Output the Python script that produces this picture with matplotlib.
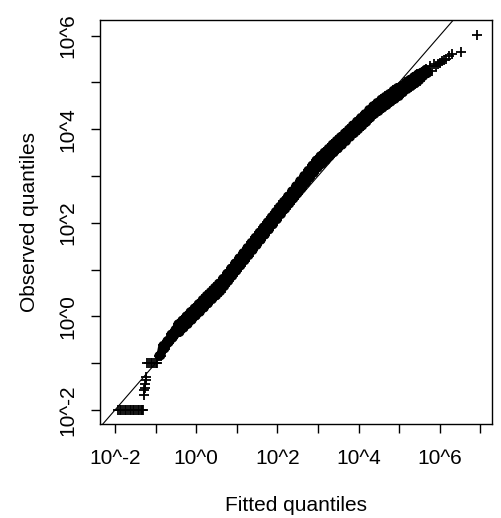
"""
Q-Q plot of observed vs fitted quantiles on log-log axes, with the y = x line.
"""

import matplotlib

matplotlib.use("Agg")
import matplotlib.pyplot as plt
import numpy as np

plt.rcParams["font.family"] = ["Liberation Sans", "DejaVu Sans"]

# quantiles, as log10 exponents
fitted_log10 = [
    # ties at 10^-2
    -1.92, -1.88, -1.84, -1.80, -1.76, -1.72, -1.68, -1.64, -1.60, -1.56,
    -1.52, -1.48, -1.44, -1.40, -1.36, -1.33, -1.31,
    # short climb
    -1.29, -1.28, -1.27, -1.26, -1.24, -1.23,
    # ties at 10^-1
    -1.20, -1.16, -1.12, -1.08, -1.04, -1.00, -0.97,
    # main body
    -0.92, -0.87, -0.82, -0.77, -0.72, -0.67, -0.62, -0.57, -0.52, -0.47,
    -0.45, -0.40, -0.35, -0.30, -0.25, -0.20, -0.15, -0.10, -0.05, 0.00,
    0.05, 0.10, 0.15, 0.20, 0.25, 0.30, 0.35, 0.40, 0.45, 0.50,
    0.55, 0.60, 0.65, 0.70, 0.75, 0.80, 0.85, 0.90, 0.95, 1.00,
    1.05, 1.10, 1.15, 1.20, 1.25, 1.30, 1.35, 1.40, 1.45, 1.50,
    1.55, 1.60, 1.65, 1.70, 1.75, 1.80, 1.85, 1.90, 1.95, 2.00,
    2.05, 2.10, 2.15, 2.20, 2.25, 2.30, 2.35, 2.40, 2.45, 2.50,
    2.55, 2.60, 2.65, 2.70, 2.75, 2.80, 2.85, 2.90, 2.95, 3.00,
    3.05, 3.10, 3.15, 3.20, 3.25, 3.30, 3.35, 3.40, 3.45, 3.50,
    3.55, 3.60, 3.65, 3.70, 3.75, 3.80, 3.85, 3.90, 3.95, 4.00,
    4.05, 4.10, 4.15, 4.20, 4.25, 4.30, 4.35, 4.40, 4.45, 4.50,
    4.55, 4.60, 4.65, 4.70, 4.75, 4.80, 4.85, 4.90, 4.95, 5.00,
    5.05, 5.10, 5.15, 5.20, 5.25, 5.30, 5.35, 5.40, 5.45, 5.50,
    5.55, 5.60, 5.65, 5.70, 5.75, 5.80, 5.85, 5.90,
    # upper tail
    5.95, 6.00, 6.05, 6.10, 6.16, 6.23, 6.30, 6.51, 6.91,
]
observed_log10 = [
    -2.00, -2.00, -2.00, -2.00, -2.00, -2.00, -2.00, -2.00, -2.00, -2.00,
    -2.00, -2.00, -2.00, -2.00, -2.00, -2.00, -2.00,
    -1.68, -1.57, -1.53, -1.45, -1.36, -1.30,
    -1.00, -1.00, -1.00, -1.00, -1.00, -1.00, -1.00,
    -0.84, -0.84, -0.62, -0.69, -0.52, -0.56, -0.38, -0.46, -0.28, -0.35,
    -0.16, -0.34, -0.08, -0.25, 0.01, -0.17, 0.10, -0.08, 0.18, 0.01,
    0.27, 0.09, 0.36, 0.18, 0.45, 0.27, 0.53, 0.36, 0.62, 0.44,
    0.71, 0.53, 0.81, 0.64, 0.92, 0.75, 1.03, 0.86, 1.14, 0.97,
    1.25, 1.08, 1.36, 1.19, 1.47, 1.30, 1.58, 1.41, 1.69, 1.52,
    1.80, 1.63, 1.91, 1.74, 2.02, 1.85, 2.13, 1.96, 2.24, 2.07,
    2.35, 2.18, 2.46, 2.29, 2.57, 2.40, 2.68, 2.51, 2.79, 2.62,
    2.90, 2.73, 3.01, 2.84, 3.12, 2.95, 3.23, 3.06, 3.34, 3.17,
    3.43, 3.25, 3.51, 3.33, 3.59, 3.42, 3.68, 3.50, 3.76, 3.58,
    3.84, 3.66, 3.92, 3.74, 4.00, 3.83, 4.09, 3.91, 4.17, 3.99,
    4.25, 4.07, 4.33, 4.15, 4.42, 4.24, 4.50, 4.32, 4.57, 4.38,
    4.64, 4.45, 4.70, 4.51, 4.76, 4.58, 4.83, 4.64, 4.89, 4.70,
    4.93, 4.78, 5.00, 4.85, 5.06, 4.91, 5.12, 4.97, 5.18, 5.04,
    5.22, 5.13, 5.28, 5.19, 5.34, 5.25, 5.39, 5.34,
    5.40, 5.42, 5.45, 5.47, 5.51, 5.56, 5.60, 5.64, 6.01,
]

x_tick_exps = [-2, -1, 0, 1, 2, 3, 4, 5, 6, 7]
y_tick_exps = [-2, -1, 0, 1, 2, 3, 4, 5, 6]

# the densely packed middle of the sample (between the tie blocks and the tail)
BODY_START, BODY_END = 30, 164


def decade_labels(exps):
    # R only printed every other decade
    return [f"10^{e}" if e % 2 == 0 else "" for e in exps]


fig = plt.figure(figsize=(5.01, 5.18), dpi=100)
ax = fig.add_axes([100 / 501, 1 - 424 / 518, 391.7 / 501, 404 / 518])

fitted = 10.0 ** np.array(fitted_log10)
observed = 10.0 ** np.array(observed_log10)

# thousands of overlapping "+" merge into a solid band there
ax.plot(fitted[BODY_START:BODY_END], observed[BODY_START:BODY_END],
        color="black", linewidth=6.5, solid_joinstyle="round",
        solid_capstyle="round")
ax.plot(fitted, observed, linestyle="none", marker="+", markersize=7.5,
        markeredgewidth=1.3, color="black")
ax.axline((1, 1), (10, 10), color="black", linewidth=0.8, zorder=3)

ax.set_xscale("log")
ax.set_yscale("log")
ax.set_xlim(10 ** -2.369, 10 ** 7.278)
ax.set_ylim(10 ** -2.299, 10 ** 6.333)

ax.set_xticks([10.0 ** e for e in x_tick_exps])
ax.set_xticklabels(decade_labels(x_tick_exps))
ax.set_yticks([10.0 ** e for e in y_tick_exps])
ax.set_yticklabels(decade_labels(y_tick_exps), rotation=90, va="center")
ax.minorticks_off()
ax.tick_params(length=6.5, width=1.0, labelsize=15, colors="black")
ax.tick_params(axis="x", pad=11.5)
ax.tick_params(axis="y", pad=10)

for side in ax.spines.values():
    side.set_linewidth(1.0)

ax.set_xlabel("Fitted quantiles", fontsize=15, labelpad=20)
ax.set_ylabel("Observed quantiles", fontsize=15, labelpad=14)

fig.savefig("out.png", dpi=100)
plt.close(fig)
